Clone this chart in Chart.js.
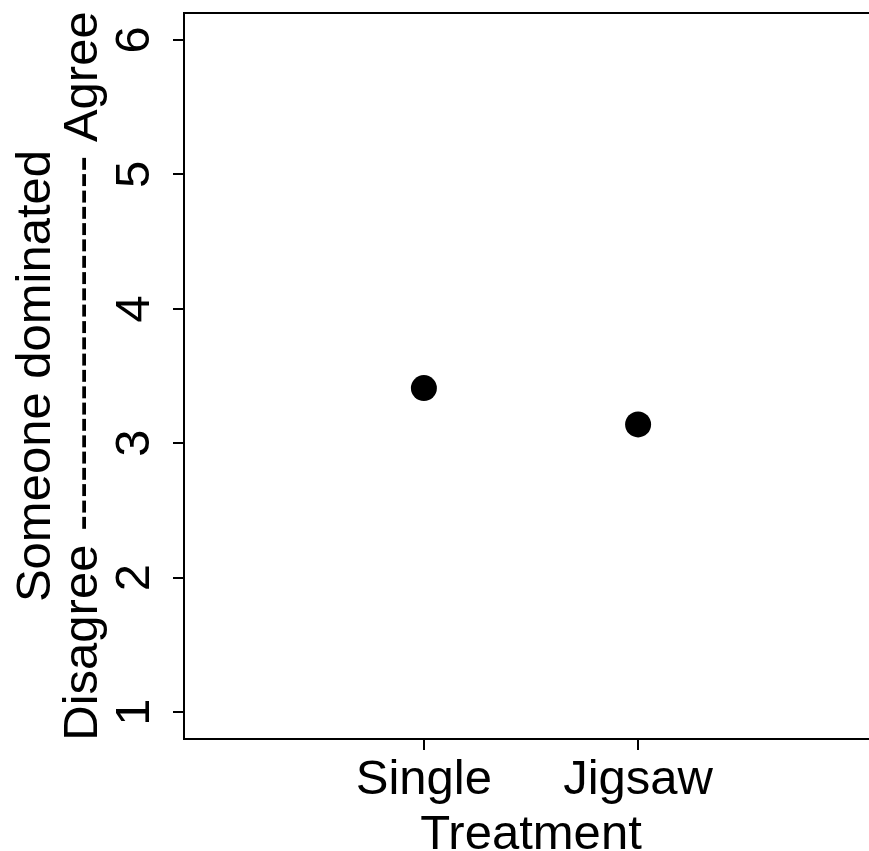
<!DOCTYPE html>
<html>
<head>
<meta charset="utf-8">
<script src="https://cdn.jsdelivr.net/npm/chart.js@4.4.1/dist/chart.umd.min.js"></script>
<style>
  html, body { margin: 0; padding: 0; background: #ffffff; overflow: hidden; }
  #wrap { width: 869px; height: 851px; overflow: hidden; position: relative; }
  canvas { display: block; }
</style>
</head>
<body>
<div id="wrap"><canvas id="c" width="878" height="851"></canvas></div>
<script>
// ---- data ----
const categories = ['Single', 'Jigsaw'];
const categoryPositions = [1, 2];
const meanValues = [3.41, 3.14];
const yTickValues = [1, 2, 3, 4, 5, 6];
const xLimits = [-0.12, 3.12];
const yLimits = [0.8, 6.2];
const xTitle = 'Treatment';
const yTitleLines = ['Someone dominated', 'Disagree ----------------------- Agree'];

const FONT = 'Arial, "Liberation Sans", sans-serif';

const points = categoryPositions.map((x, i) => ({ x: x, y: meanValues[i] }));

function noPad(s) { s.paddingTop = 0; s.paddingBottom = 0; s.paddingLeft = 0; s.paddingRight = 0; }

// plot frame: top edge of the box (right edge lies outside the visible page)
const frameTop = {
  id: 'frameTop',
  afterDraw(chart) {
    const a = chart.chartArea, ctx = chart.ctx;
    ctx.save();
    ctx.strokeStyle = '#000000';
    ctx.lineWidth = 2;
    ctx.beginPath();
    ctx.moveTo(a.left - 1, a.top);
    ctx.lineTo(a.right, a.top);
    ctx.stroke();
    ctx.restore();
  }
};

new Chart(document.getElementById('c'), {
  type: 'scatter',
  data: {
    datasets: [{
      data: points,
      backgroundColor: '#000000',
      borderWidth: 0,
      pointRadius: 13,
      pointHoverRadius: 13
    }]
  },
  plugins: [frameTop],
  options: {
    responsive: false,
    animation: false,
    devicePixelRatio: 1,
    layout: { autoPadding: false, padding: { top: 13, right: 0, bottom: 0, left: 0 } },
    plugins: { legend: { display: false }, tooltip: { enabled: false } },
    scales: {
      x: {
        type: 'linear',
        position: 'bottom',
        min: xLimits[0],
        max: xLimits[1],
        afterBuildTicks: (s) => { s.ticks = categoryPositions.map(v => ({ value: v })); },
        afterFit: (s) => { s.height = 112; noPad(s); },
        ticks: {
          autoSkip: false,
          maxRotation: 0,
          minRotation: 0,
          padding: 1,
          color: '#000000',
          font: { family: FONT, size: 49, lineHeight: 1.2 },
          callback: (v) => { const i = categoryPositions.indexOf(v); return i >= 0 ? categories[i] : ''; }
        },
        grid: { display: true, drawOnChartArea: false, drawTicks: true, tickLength: 11, color: '#000000', lineWidth: 2 },
        border: { display: true, color: '#000000', width: 2 },
        title: {
          display: true,
          text: xTitle,
          color: '#000000',
          font: { family: FONT, size: 49, lineHeight: 0.62 },
          padding: { top: 0, bottom: 0 }
        }
      },
      y: {
        type: 'linear',
        position: 'left',
        min: yLimits[0],
        max: yLimits[1],
        afterBuildTicks: (s) => { s.ticks = yTickValues.map(v => ({ value: v })); },
        afterFit: (s) => { s.width = 184; noPad(s); },
        ticks: {
          autoSkip: false,
          minRotation: 90,
          maxRotation: 90,
          crossAlign: 'center',
          padding: 23.4,
          color: '#000000',
          font: { family: FONT, size: 49, lineHeight: 1.2 },
          callback: (v) => String(v)
        },
        grid: { display: true, drawOnChartArea: false, drawTicks: true, tickLength: 11, color: '#000000', lineWidth: 2 },
        border: { display: true, color: '#000000', width: 2 },
        title: {
          display: true,
          text: yTitleLines,
          color: '#000000',
          font: { family: FONT, size: 49, lineHeight: 0.96 },
          padding: { top: 12.5, bottom: 0 }
        }
      }
    }
  }
});
</script>
</body>
</html>
